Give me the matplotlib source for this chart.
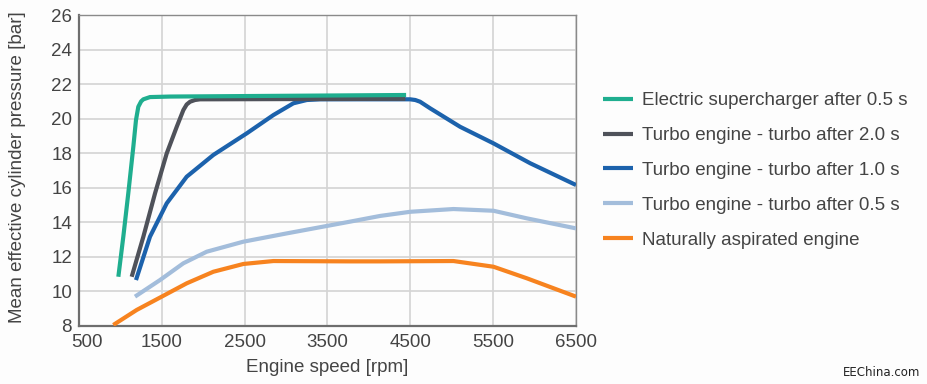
import matplotlib
matplotlib.use("Agg")
import matplotlib.pyplot as plt
import matplotlib.transforms as mtransforms

plt.rcParams['font.family'] = ['Liberation Sans', 'DejaVu Sans']

# Data (engine speed rpm, mean effective pressure bar)
es_rpm = [975, 1035, 1095, 1156, 1188, 1216, 1250, 1277, 1357, 1600, 4449]
es_bar = [10.85, 13.17, 15.68, 18.38, 19.92, 20.69, 21.0, 21.12, 21.25, 21.28, 21.37]

t20_rpm = [1136, 1277, 1418, 1559, 1680, 1760, 1800, 1841, 1900, 1961, 4440]
t20_bar = [10.85, 13.17, 15.68, 17.99, 19.53, 20.5, 20.82, 20.98, 21.08, 21.12, 21.15]

t10_rpm = [1188, 1357, 1559, 1800, 2122, 2525, 2847, 3088, 3250, 3411, 4135, 4498,
           4560, 4618, 4739, 5101, 5504, 5947, 6500]
t10_bar = [10.66, 13.17, 15.1, 16.64, 17.9, 19.15, 20.21, 20.89, 21.08, 21.12, 21.12, 21.12,
           21.08, 20.98, 20.6, 19.53, 18.57, 17.42, 16.16]

t05_rpm = [1176, 1478, 1760, 2042, 2484, 3008, 3773, 4135, 4498, 5021, 5504, 5907, 6500]
t05_bar = [9.7, 10.66, 11.63, 12.3, 12.88, 13.36, 14.04, 14.37, 14.61, 14.77, 14.67, 14.23, 13.65]

na_rpm = [914, 1197, 1499, 1800, 2122, 2484, 2847, 3773, 4135, 5021, 5504, 5907, 6500]
na_bar = [8.06, 8.93, 9.7, 10.47, 11.14, 11.59, 11.76, 11.74, 11.74, 11.76, 11.43, 10.76, 9.7]

labels = ["Electric supercharger after 0.5 s",
          "Turbo engine - turbo after 2.0 s",
          "Turbo engine - turbo after 1.0 s",
          "Turbo engine - turbo after 0.5 s",
          "Naturally aspirated engine"]
colors = ["#1fae8f", "#4f525a", "#1c62ac", "#a3bddb", "#f7831f"]

x_ticks = [500, 1500, 2500, 3500, 4500, 5500, 6500]
y_ticks = [8, 10, 12, 14, 16, 18, 20, 22, 24, 26]

FS = 13.5
TXT = "#444444"

fig = plt.figure(figsize=(9.27, 3.84), dpi=100)
fig.patch.set_facecolor("#fdfdfd")
ax = fig.add_axes([79/927, 1-326/384, (576-79)/927, (326-15)/384])
ax.set_facecolor("#fdfdfd")

series = [(es_rpm, es_bar), (t20_rpm, t20_bar), (t10_rpm, t10_bar), (t05_rpm, t05_bar), (na_rpm, na_bar)]
lines = {}
for i in [4, 3, 2, 1, 0]:
    x, y = series[i]
    ln, = ax.plot(x, y, color=colors[i], lw=3.0, solid_capstyle='butt',
                  solid_joinstyle='round', label=labels[i], zorder=3 + (4 - i))
    lines[i] = ln

ax.set_xlim(500, 6500)
ax.set_ylim(8, 26)
ax.set_xticks(x_ticks)
ax.set_yticks(y_ticks)
ax.grid(True, color="#d4d4d4", lw=1.2)
ax.set_axisbelow(True)
for s in ax.spines.values():
    s.set_color("#8a8a8a")
    s.set_linewidth(1.0)
ax.spines['left'].set_linewidth(1.6)
ax.spines['bottom'].set_linewidth(1.6)
ax.spines['left'].set_color("#6e6e6e")
ax.spines['bottom'].set_color("#6e6e6e")
ax.tick_params(length=0, labelsize=FS, colors=TXT)
ax.tick_params(axis='y', pad=5)
ax.tick_params(axis='x', pad=6)

# nudge the first x tick label right, as in the reference
first = ax.get_xticklabels()[0]
first.set_transform(first.get_transform() + mtransforms.ScaledTranslation(8/100, 0, fig.dpi_scale_trans))

fig.text(327/927, 1-368/384, "Engine speed [rpm]", ha='center', va='center', fontsize=FS, color=TXT)
fig.text(18/927, 1-167/384, "Mean effective cylinder pressure [bar]", ha='center', va='center',
         rotation=90, fontsize=FS, color=TXT)

handles = [lines[i] for i in range(5)]
leg = fig.legend(handles, labels, loc='upper left', bbox_to_anchor=(603/927, 1-92/384),
                 frameon=False, fontsize=FS, handlelength=1.6, handletextpad=0.5,
                 labelspacing=0.95, borderaxespad=0, borderpad=0)
for t in leg.get_texts():
    t.set_color(TXT)

fig.text(882/927, 1-372/384, "EEChina.com", ha='center', va='center', fontsize=8.5,
         color="#222222", family=['DejaVu Sans'])

fig.savefig("out.png", dpi=100, facecolor=fig.get_facecolor())
